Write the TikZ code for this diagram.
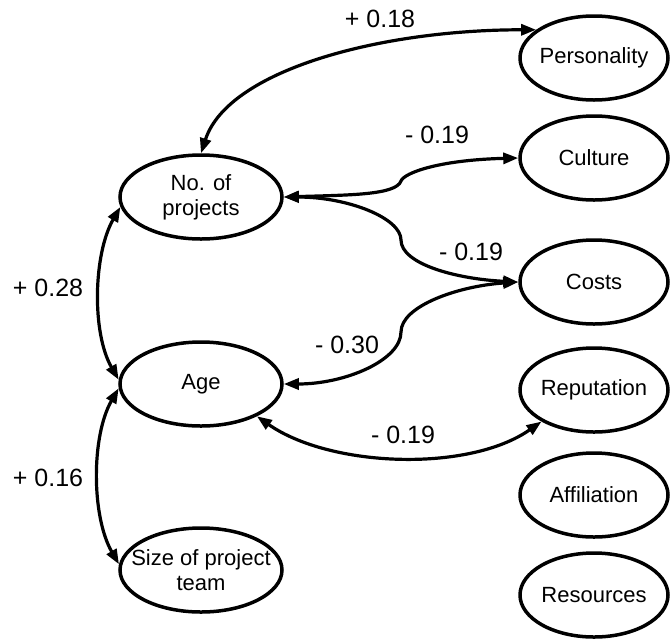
\documentclass[tikz,border=0pt]{standalone}
\usepackage{fontspec}
\setmainfont{Liberation Sans}
\usetikzlibrary{shapes.geometric,arrows.meta}
\newcommand\ovalfont{\fontsize{22}{25}\selectfont}
\newcommand\coeffont{\fontsize{25}{28}\selectfont}
\tikzset{
  oval/.style={draw, ellipse, line width=3.5pt, inner xsep=-30pt, inner ysep=-10pt,
    align=center, font=\ovalfont},
  left oval/.style={oval, minimum width=162pt, minimum height=84pt},
  right oval/.style={oval, minimum width=148pt, minimum height=84pt},
  corr/.style={<->, line width=3.2pt},
  coef/.style={font=\coeffont, inner sep=0pt},
  >={Triangle[length=15pt,width=11pt]}
}
\begin{document}
\begin{tikzpicture}[x=1pt,y=1pt]
      \useasboundingbox (0,0) rectangle (671,-638);
      \node[left oval] (nop) at (201,-197) {No. of\\projects};
      \node[left oval] (age) at (201,-384) {Age};
      \node[left oval] (size) at (201,-570) {Size of project\\team};
      \node[right oval] (pers) at (594,-58) {Personality};
      \node[right oval] (cult) at (594,-158) {Culture};
      \node[right oval] (costs) at (594,-282) {Costs};
      \node[right oval] (rep) at (594,-390) {Reputation};
      \node[right oval] (affil) at (594,-495) {Affiliation};
      \node[right oval] (res) at (594,-595) {Resources};
      \coordinate (cbend) at (401,-181);
      \coordinate (kbend) at (401,-240);
      \coordinate (abend) at (401,-332);
      \draw[corr] (pers.154) to[out=180,in=72,out distance=157pt,in distance=87pt] (nop.north);
      \draw[corr] (nop.east) .. controls +(66,2) and +(-5,-14) .. (cbend)
        .. controls +(3,8) and +(-80,-2) .. (cult.west);
      \draw[corr] (nop.east) .. controls +(64,0) and +(0,22) .. (kbend)
        .. controls +(0,-24) and +(-62,3) .. (costs.west);
      \draw[corr] (costs.west) .. controls +(-60,-4) and +(0,26) .. (abend)
        .. controls +(0,-28) and +(62,0) .. (age.east);
      \draw[corr] (age.-30) to[out=-35,in=-145,looseness=0.8] (rep.211);
      \draw[corr] (nop.187) to[out=240,in=120,looseness=0.8] (age.177);
      \draw[corr] (age.183) to[out=240,in=120,looseness=0.8] (size.176);
      \node[coef] (r18) at (380,-19) {+ 0.18};
      \node[coef] (r19a) at (437,-135) {- 0.19};
      \node[coef] (r19b) at (471,-252) {- 0.19};
      \node[coef] (r30) at (347,-345) {- 0.30};
      \node[coef] (r19c) at (403,-435) {- 0.19};
      \node[coef] (r28) at (48,-288) {+ 0.28};
      \node[coef] (r16) at (48,-478) {+ 0.16};
\end{tikzpicture}
\end{document}
